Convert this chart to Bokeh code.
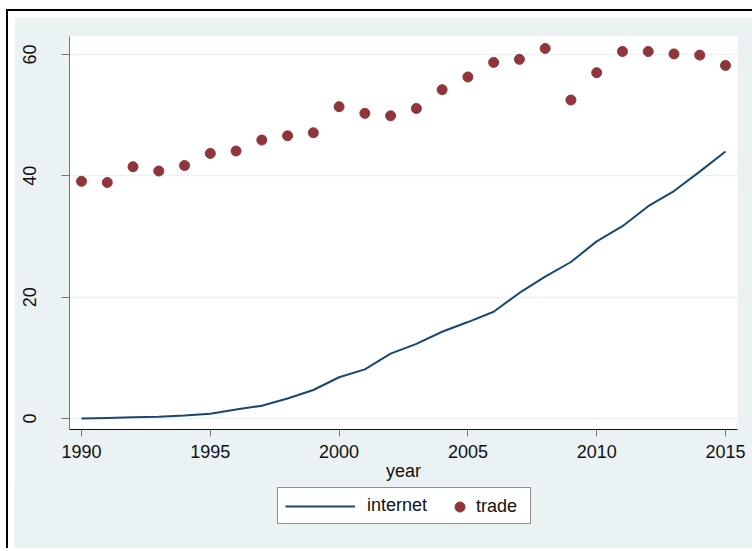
from bokeh.plotting import figure
from bokeh.models import Range1d, FixedTicker, Legend, LegendItem, ColumnDataSource
from bokeh.layouts import column
from bokeh.embed import file_html
from bokeh.resources import INLINE

years = list(range(1990, 2016))
internet = [0.0, 0.1, 0.2, 0.3, 0.5, 0.8, 1.5, 2.1, 3.3, 4.7, 6.8, 8.1, 10.7, 12.3, 14.3,
            15.9, 17.6, 20.7, 23.4, 25.8, 29.2, 31.7, 35.0, 37.5, 40.7, 44.0]
trade = [39.1, 38.9, 41.5, 40.8, 41.7, 43.7, 44.1, 45.9, 46.6, 47.1, 51.4, 50.3, 49.9, 51.1, 54.2,
         56.3, 58.7, 59.2, 61.0, 52.5, 57.0, 60.5, 60.5, 60.1, 59.9, 58.2]
x_ticks = [1990, 1995, 2000, 2005, 2010, 2015]
y_ticks = [0, 20, 40, 60]

FONT = "Liberation Sans"
FS = "18px"
BG = "#EAF2F3"
NAVY = "#1A476F"
MAROON = "#90353B"
TXT = "#111111"

src = ColumnDataSource(dict(year=years, internet=internet, trade=trade))

# ---- main chart ----
p = figure(width=738, height=469, output_backend="svg", toolbar_location=None,
           x_range=Range1d(1989.534, 2015.466), y_range=Range1d(-1.81, 62.97),
           min_border_left=55, min_border_right=15, min_border_top=19, min_border_bottom=57)
p.background_fill_color = "white"
p.border_fill_color = BG
p.outline_line_color = None

p.line("year", "internet", source=src, line_color=NAVY, line_width=2)
p.scatter("year", "trade", source=src, size=10, fill_color=MAROON, line_color=MAROON)

p.xgrid.visible = False
p.ygrid.grid_line_color = BG
p.ygrid.grid_line_width = 1.5
p.ygrid.ticker = FixedTicker(ticks=y_ticks)

xa = p.xaxis[0]
xa.ticker = FixedTicker(ticks=x_ticks)
xa.axis_label = "year"
xa.axis_label_text_font = FONT
xa.axis_label_text_font_size = FS
xa.axis_label_text_font_style = "normal"
xa.axis_label_text_color = TXT
xa.axis_label_standoff = 0
xa.major_label_text_font = FONT
xa.major_label_text_font_size = FS
xa.major_label_text_color = TXT
xa.major_label_standoff = 8
xa.major_tick_out = 7
xa.major_tick_in = 0
xa.minor_tick_out = 0
xa.minor_tick_in = 0
xa.major_tick_line_color = "#777777"
xa.axis_line_color = TXT
xa.axis_line_width = 1

ya = p.yaxis[0]
ya.ticker = FixedTicker(ticks=y_ticks)
ya.major_label_orientation = "vertical"
ya.major_label_text_font = FONT
ya.major_label_text_font_size = FS
ya.major_label_text_color = TXT
ya.major_label_standoff = 25
ya.major_tick_out = 8
ya.major_tick_in = 0
ya.minor_tick_out = 0
ya.minor_tick_in = 0
ya.major_tick_line_color = "#777777"
ya.axis_line_color = "#777777"
ya.axis_line_width = 1

# ---- legend strip (separate figure below the chart; its frame aligns with the chart's) ----
lg = figure(width=738, height=62, output_backend="svg", toolbar_location=None,
            x_range=Range1d(0, 1), y_range=Range1d(0, 1),
            x_axis_type=None, y_axis_type=None,
            min_border_left=0, min_border_right=0, min_border_top=0, min_border_bottom=0)
lg.background_fill_color = BG
lg.background_fill_alpha = 1
lg.border_fill_color = BG
lg.outline_line_color = None
lg.grid.visible = False
lg.styles = {"background-color": BG}

# same series (they fall outside this strip's ranges); used only for the legend glyphs
r_line = lg.line("year", "internet", source=src, line_color=NAVY, line_width=2)
r_pts = lg.scatter("year", "trade", source=src, size=10, fill_color=MAROON, line_color=MAROON)

leg_a = Legend(items=[LegendItem(label="internet", renderers=[r_line])],
               orientation="horizontal", location=(208, 24))
leg_a.label_text_font = FONT
leg_a.label_text_font_size = FS
leg_a.label_text_color = TXT
leg_a.border_line_color = "#222222"
leg_a.border_line_width = 1
leg_a.background_fill_color = "white"
leg_a.background_fill_alpha = 1
leg_a.glyph_width = 70
leg_a.label_standoff = 12
leg_a.label_width = 156
leg_a.padding = 7
leg_a.margin = 0
lg.add_layout(leg_a, "center")

leg_b = Legend(items=[LegendItem(label="trade", renderers=[r_pts])],
               orientation="horizontal", location=(378, 29))
leg_b.label_text_font = FONT
leg_b.label_text_font_size = FS
leg_b.label_text_color = TXT
leg_b.border_line_color = None
leg_b.background_fill_alpha = 0
leg_b.glyph_width = 25
leg_b.glyph_height = 25
leg_b.label_height = 25
leg_b.label_standoff = 4
leg_b.padding = 0
leg_b.margin = 0
lg.add_layout(leg_b, "center")

p.margin = (6, 0, 0, 6)
lg.margin = (0, 0, 0, 6)
page = column(p, lg, spacing=0, margin=(9, 0, 0, 6),
              styles={"border-left": "2px solid black", "border-top": "2px solid black",
                      "background-color": "white"})

open("out.html", "w").write(file_html(page, INLINE))
